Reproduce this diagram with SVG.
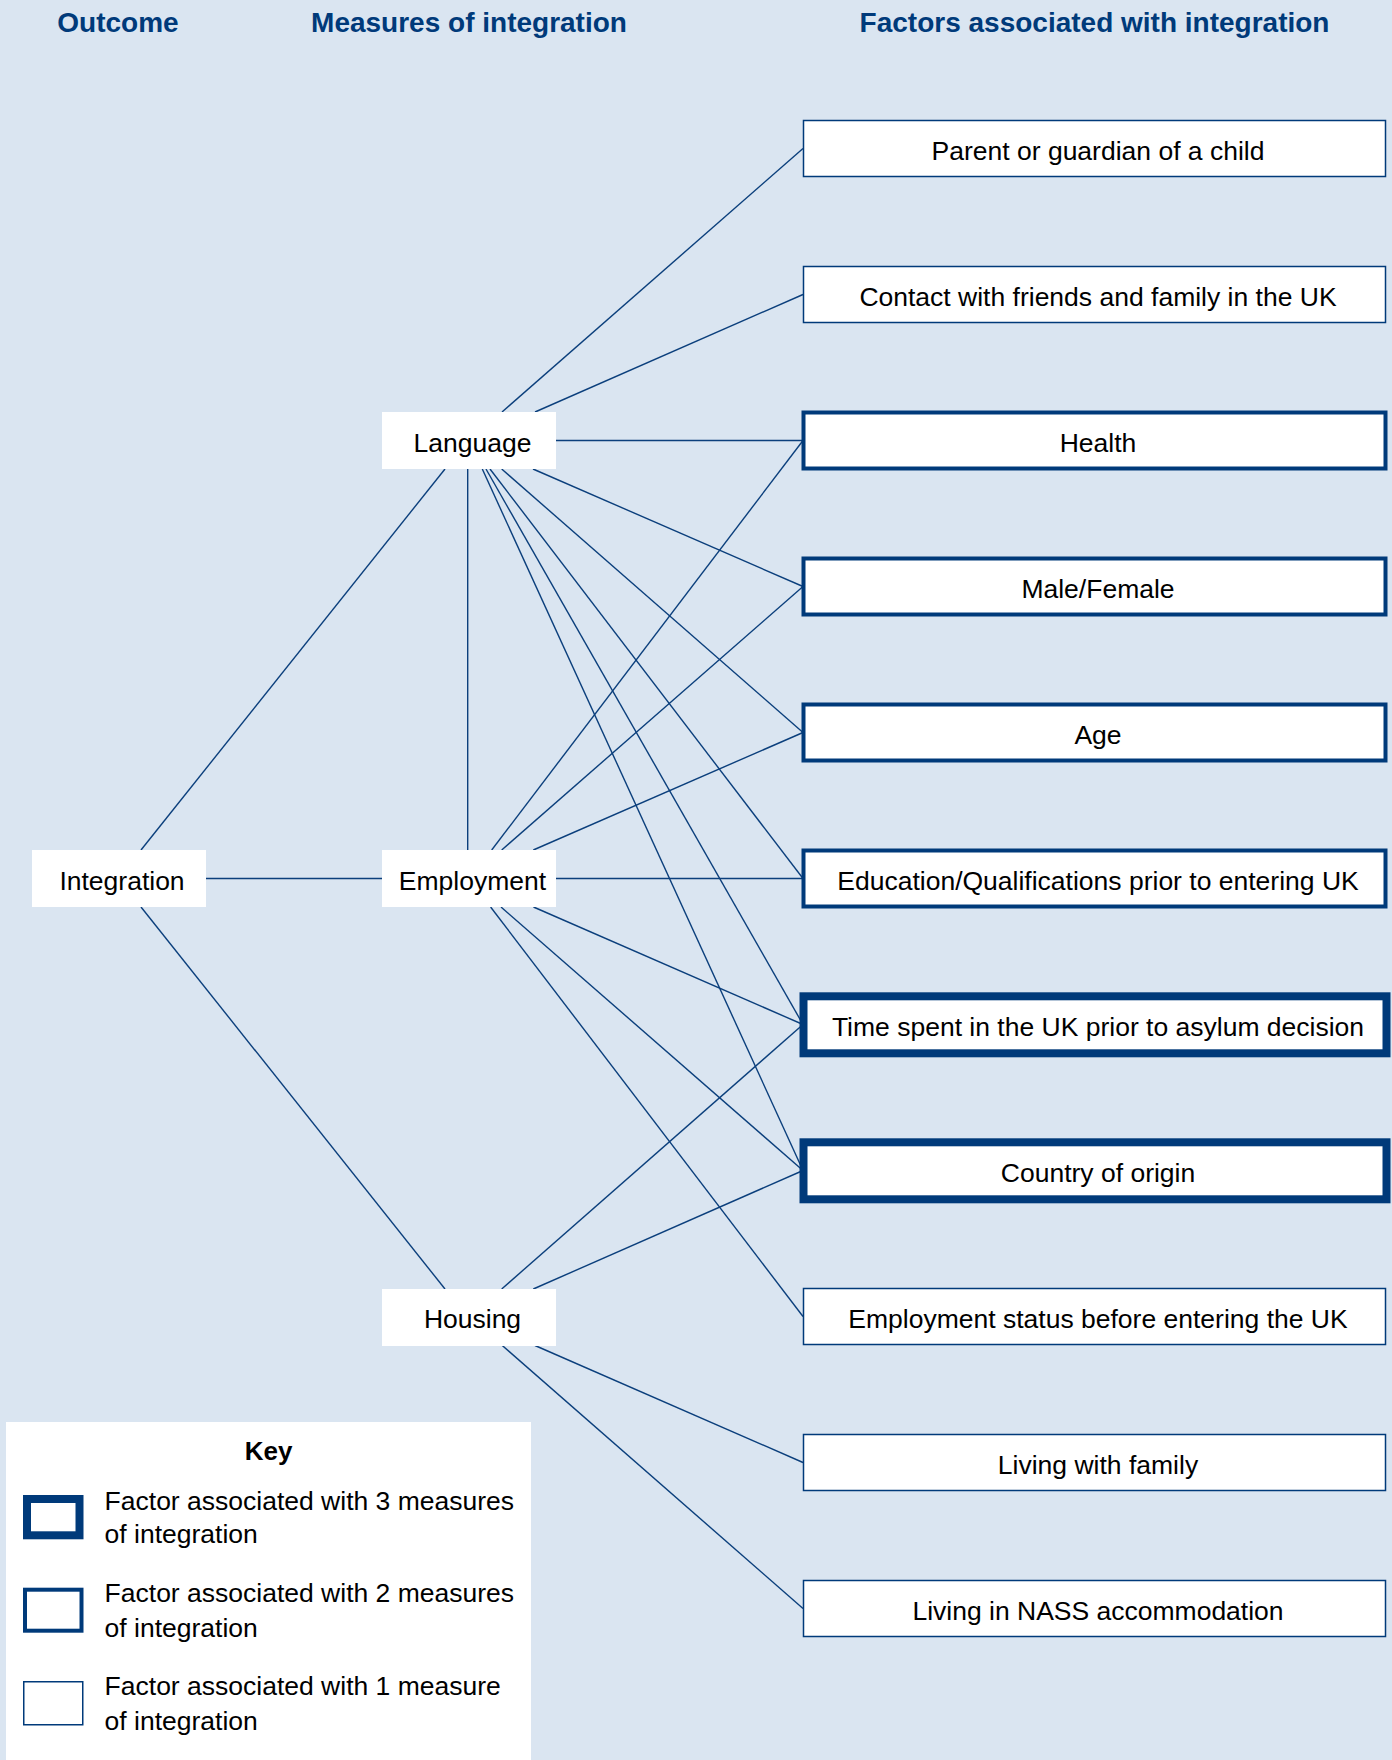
<svg xmlns="http://www.w3.org/2000/svg" width="1392" height="1760" viewBox="0 0 1392 1760">
<style>
.hdr{font-family:"Liberation Sans",Arial,sans-serif;font-weight:bold;font-size:28px;fill:#003a7a;text-anchor:middle}
.t{font-family:"Liberation Sans",Arial,sans-serif;font-size:26.5px;fill:#000;text-anchor:middle}
.kt{font-family:"Liberation Sans",Arial,sans-serif;font-size:26.5px;fill:#000}
.kh{font-family:"Liberation Sans",Arial,sans-serif;font-weight:bold;font-size:26px;fill:#000;text-anchor:middle}
.m{fill:#fff}
.f1{fill:#fff;stroke:#003a7a;stroke-width:1.5}
.f2{fill:#fff;stroke:#003a7a;stroke-width:4}
.f3{fill:#fff;stroke:#003a7a;stroke-width:8}
.c line{stroke:#0b3f7c;stroke-width:1.4;fill:none}
</style>
<rect x="0" y="0" width="1392" height="1760" fill="#dae5f1"/>
<g id="headers">
<text class="hdr" x="118" y="32">Outcome</text>
<text class="hdr" x="469" y="32">Measures of integration</text>
<text class="hdr" x="1094.5" y="32">Factors associated with integration</text>
</g>
<g id="connectors" class="c">
<line x1="502" y1="412" x2="803" y2="148.5"/>
<line x1="535" y1="412" x2="803" y2="294.5"/>
<line x1="556" y1="440.5" x2="803" y2="440.5"/>
<line x1="533" y1="469" x2="803" y2="586.5"/>
<line x1="501.7" y1="469" x2="803" y2="732.5"/>
<line x1="490" y1="469" x2="803" y2="878.5"/>
<line x1="486" y1="469" x2="803" y2="1024.5"/>
<line x1="482.3" y1="469" x2="803" y2="1170.5"/>
<line x1="467.7" y1="469" x2="467.7" y2="850"/>
<line x1="445" y1="469" x2="141" y2="850"/>
<line x1="206" y1="878.5" x2="382" y2="878.5"/>
<line x1="556" y1="878.5" x2="803" y2="878.5"/>
<line x1="491.7" y1="850" x2="803" y2="440.5"/>
<line x1="501.7" y1="850" x2="803" y2="586.5"/>
<line x1="533.3" y1="850" x2="803" y2="732.5"/>
<line x1="533.5" y1="907" x2="803" y2="1024.5"/>
<line x1="501" y1="907" x2="803" y2="1170.5"/>
<line x1="490.6" y1="907" x2="803" y2="1316.5"/>
<line x1="141" y1="907" x2="445" y2="1289"/>
<line x1="501.7" y1="1289" x2="803" y2="1024.5"/>
<line x1="533.3" y1="1289" x2="803" y2="1170.5"/>
<line x1="535" y1="1345.5" x2="803" y2="1462.5"/>
<line x1="502.3" y1="1345.5" x2="803" y2="1608.5"/>
</g>
<g id="integration"><rect class="m" x="32" y="850" width="174" height="57"/><text class="t" x="122" y="890.3">Integration</text></g>
<g id="language"><rect class="m" x="382" y="412" width="174" height="57"/><text class="t" x="472.5" y="452.3">Language</text></g>
<g id="employment"><rect class="m" x="382" y="850" width="174" height="57"/><text class="t" x="472.5" y="890.3">Employment</text></g>
<g id="housing"><rect class="m" x="382" y="1289" width="174" height="57"/><text class="t" x="472.5" y="1328.3">Housing</text></g>
<g id="f-parent"><rect class="f1" x="803.5" y="120.5" width="582" height="56"/><text class="t" x="1098" y="160">Parent or guardian of a child</text></g>
<g id="f-contact"><rect class="f1" x="803.5" y="266.5" width="582" height="56"/><text class="t" x="1098" y="306">Contact with friends and family in the UK</text></g>
<g id="f-health"><rect class="f2" x="803.5" y="412.5" width="582" height="56"/><text class="t" x="1098" y="452">Health</text></g>
<g id="f-gender"><rect class="f2" x="803.5" y="558.5" width="582" height="56"/><text class="t" x="1098" y="598">Male/Female</text></g>
<g id="f-age"><rect class="f2" x="803.5" y="704.5" width="582" height="56"/><text class="t" x="1098" y="744">Age</text></g>
<g id="f-education"><rect class="f2" x="803.5" y="850.5" width="582" height="56"/><text class="t" x="1098" y="890">Education/Qualifications prior to entering UK</text></g>
<g id="f-time"><rect class="f3" x="803.5" y="996.3" width="583" height="57"/><text class="t" x="1098" y="1036">Time spent in the UK prior to asylum decision</text></g>
<g id="f-country"><rect class="f3" x="803.5" y="1142.3" width="583" height="57"/><text class="t" x="1098" y="1182">Country of origin</text></g>
<g id="f-employstatus"><rect class="f1" x="803.5" y="1288.5" width="582" height="56"/><text class="t" x="1098" y="1328">Employment status before entering the UK</text></g>
<g id="f-family"><rect class="f1" x="803.5" y="1434.5" width="582" height="56"/><text class="t" x="1098" y="1474">Living with family</text></g>
<g id="f-nass"><rect class="f1" x="803.5" y="1580.5" width="582" height="56"/><text class="t" x="1098" y="1620">Living in NASS accommodation</text></g>
<g id="key">
<rect x="6" y="1422" width="525" height="338" fill="#fff"/>
<text class="kh" x="268.5" y="1460">Key</text>
<rect class="f3" x="27" y="1499" width="52.5" height="36.3"/>
<text class="kt" x="104.6" y="1510">Factor associated with 3 measures</text>
<text class="kt" x="104.6" y="1543.3">of integration</text>
<rect class="f2" x="25" y="1589.7" width="56.5" height="41"/>
<text class="kt" x="104.6" y="1602.3">Factor associated with 2 measures</text>
<text class="kt" x="104.6" y="1636.7">of integration</text>
<rect class="f1" x="23.75" y="1681.75" width="59" height="43"/>
<text class="kt" x="104.6" y="1695">Factor associated with 1 measure</text>
<text class="kt" x="104.6" y="1730">of integration</text>
</g>
</svg>
